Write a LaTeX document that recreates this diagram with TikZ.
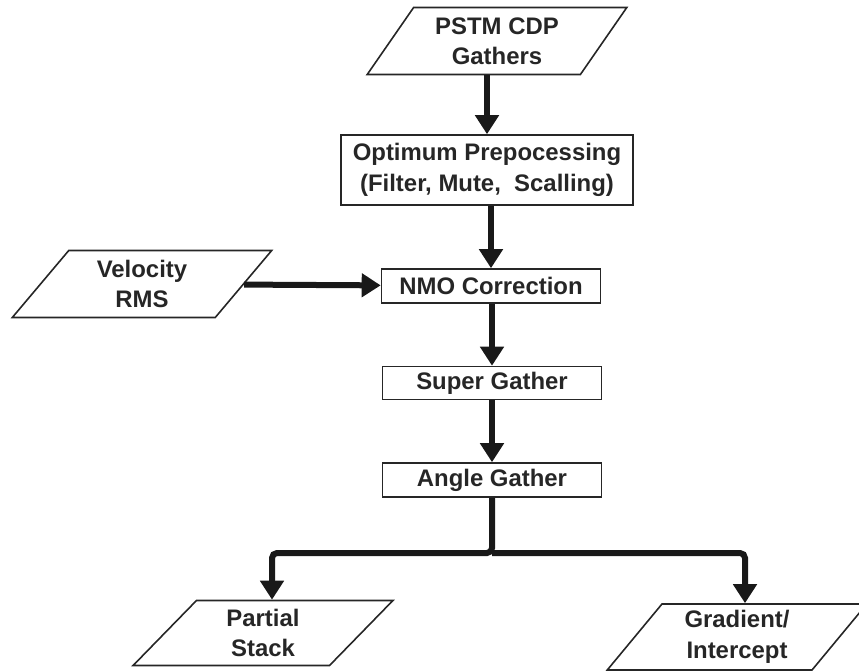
\documentclass[tikz,border=0pt]{standalone}
\usepackage{fontspec}
\setmainfont{Liberation Sans}
\usetikzlibrary{shapes.geometric, arrows.meta}

\begin{document}
\begin{tikzpicture}[x=1bp, y=-1bp,
        procbox/.style={draw=black!85, line width=1.6bp, rectangle, minimum width=219bp, minimum height=34bp, align=center, inner sep=0pt, text=black!85, font=\fontsize{24}{30.5}\selectfont\bfseries},
        databox/.style={draw=black!85, line width=1.6bp, trapezium, trapezium left angle=54, trapezium right angle=126, trapezium stretches=true, minimum width=260bp, minimum height=67bp, align=center, inner sep=0pt, text=black!85, font=\fontsize{24}{30.5}\selectfont\bfseries},
        arrow/.style={-{Triangle[length=19bp, width=23bp]}, line width=6bp, black!90}
    ]
    \useasboundingbox (0,0) rectangle (859,671);

    % --- ROW 1: Input gathers ---
    \node[databox] (pstm) at (497,41) {PSTM CDP\\Gathers};

    % --- ROW 2: Preprocessing ---
    \node[procbox, minimum width=292bp, minimum height=70bp] (optprep) at (487,170) {Optimum Prepocessing\\(Filter, Mute,\ \ Scalling)};

    % --- ROW 3: NMO with velocity input ---
    \node[databox] (velrms) at (142,284) {Velocity\\RMS};
    \node[procbox] (nmocorr) at (491,286) {NMO Correction};

    % --- ROW 4/5: Gathers ---
    \node[procbox, minimum height=33bp] (supergather) at (492,383) {Super Gather};
    \node[procbox] (anglegather) at (492,480) {Angle Gather};

    % --- ROW 6: Outputs ---
    \node[databox, minimum height=65bp] (partstack) at (263,633) {Partial\\Stack};
    \node[databox, minimum height=66bp] (gradint) at (737,637) {Gradient/\\Intercept};

    \coordinate (split) at (492,553);

    % --- ARROWS ---
    \draw[arrow] (pstm.south -| optprep.north) -- (optprep.north);
    \draw[arrow] (optprep.south -| nmocorr.north) -- (nmocorr.north);
    \draw[arrow] (velrms) -- (nmocorr);
    \draw[arrow] (nmocorr.south -| supergather.north) -- (supergather.north);
    \draw[arrow] (supergather) -- (anglegather);

    % --- Branch to outputs ---
    \draw[arrow, rounded corners=5bp] (anglegather.south) -- (split) -| ([xshift=9bp]partstack.north);
    \draw[arrow, rounded corners=5bp] (split) -| ([xshift=8bp]gradint.north);

\end{tikzpicture}
\end{document}
